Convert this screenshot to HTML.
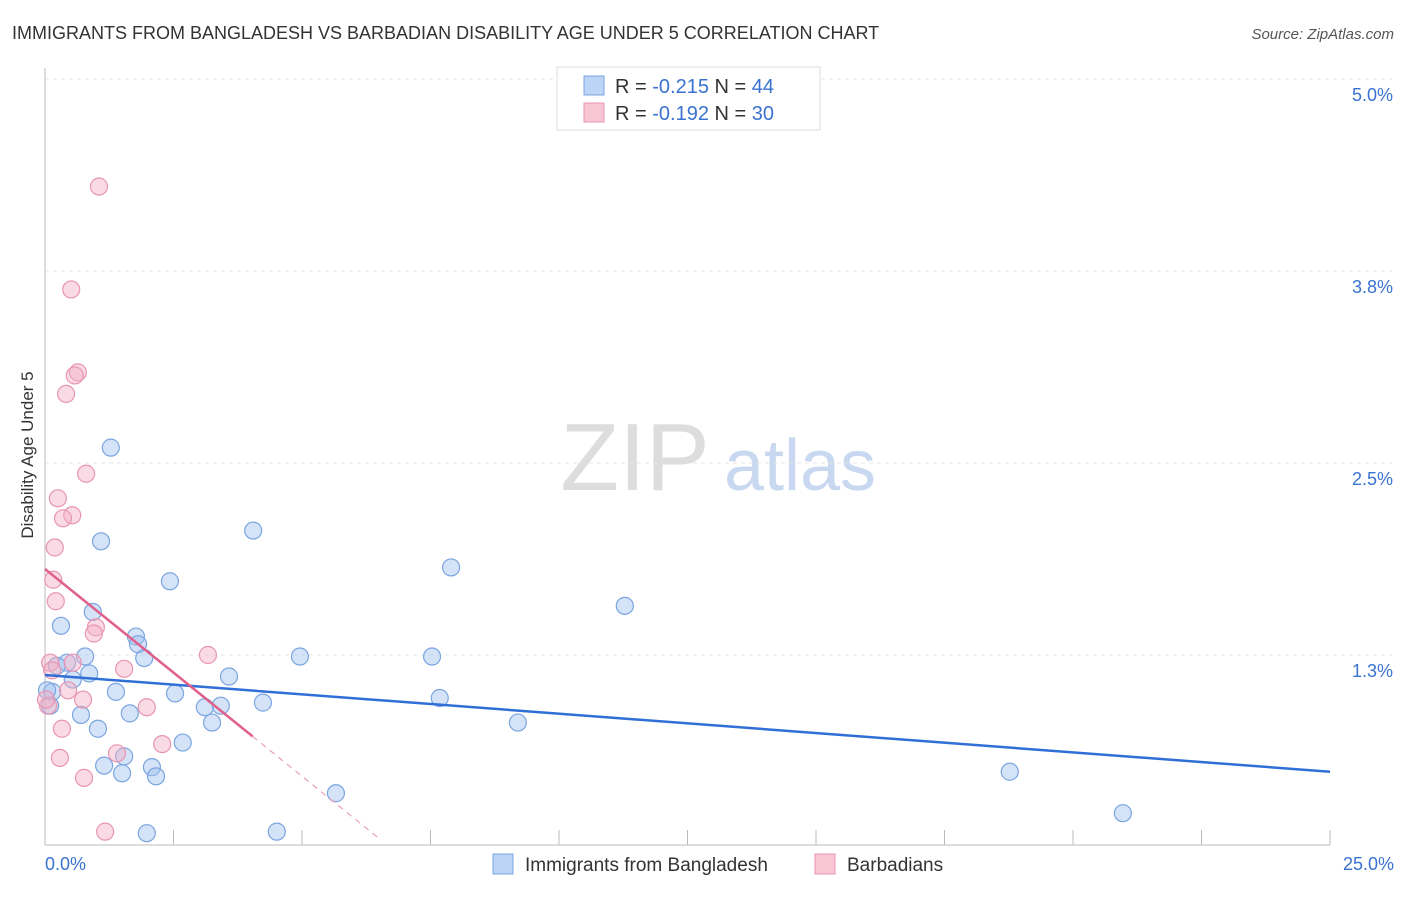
<!DOCTYPE html>
<html><head><meta charset="utf-8"><style>
body{margin:0;background:#fff;font-family:"Liberation Sans",sans-serif;}
svg text{font-family:"Liberation Sans",sans-serif;}
</style></head><body>
<svg id="c" width="1406" height="892" xmlns="http://www.w3.org/2000/svg">
<text x="12" y="39" font-size="18" fill="#333">IMMIGRANTS FROM BANGLADESH VS BARBADIAN DISABILITY AGE UNDER 5 CORRELATION CHART</text>
<text x="1394" y="39" font-size="15" fill="#555" text-anchor="end" font-style="italic">Source: ZipAtlas.com</text>
<text transform="translate(33,455) rotate(-90)" font-size="17" fill="#333" text-anchor="middle">Disability Age Under 5</text>
<g><text x="635" y="490" font-size="96" fill="#ddd" font-family="Liberation Serif" text-anchor="middle">ZIP</text><text x="800" y="490" font-size="72" fill="#c8d8f0" text-anchor="middle">atlas</text></g>
<g id="grid"></g><g id="pts"></g><g id="trend"></g>
<g>
<rect x="557" y="67" width="263" height="63" fill="#fff" stroke="#ddd"/>
<rect x="584" y="76" width="20" height="19" fill="#bcd4f5" stroke="#7aa5e0"/>
<rect x="584" y="103" width="20" height="19" fill="#f9c6d6" stroke="#e895b0"/>
<text x="615" y="93" font-size="20" fill="#333">R = <tspan fill="#3a72d0">-0.215</tspan>   N = <tspan fill="#3a72d0">44</tspan></text>
<text x="615" y="120" font-size="20" fill="#333">R = <tspan fill="#3a72d0">-0.192</tspan>   N = <tspan fill="#3a72d0">30</tspan></text>
</g>
<g>
<rect x="493" y="854" width="20" height="20" fill="#bcd4f5" stroke="#7aa5e0"/>
<text x="525" y="871" font-size="19" fill="#333">Immigrants from Bangladesh</text>
<rect x="815" y="854" width="20" height="20" fill="#f9c6d6" stroke="#e895b0"/>
<text x="847" y="871" font-size="19" fill="#333">Barbadians</text>
</g>
</svg>
<script>
const yTicks=[1.25,2.5,3.75,5.0];
const yTickLabels=["1.3%","2.5%","3.8%","5.0%"];
const xTickLabels=["0.0%","25.0%"];
const blueX=[1.28,1.09,4.05,2.43,7.90,11.28,0.93,0.31,1.77,1.81,1.93,0.78,0.43,0.23,4.96,7.53,0.86,0.54,0.14,1.38,3.58,2.53,7.68,4.24,3.11,3.42,0.70,1.65,3.25,9.20,1.03,2.68,1.54,1.15,2.08,1.50,2.16,5.66,18.77,20.97,1.98,4.51,0.10,0.04];
const blueY=[2.60,1.99,2.06,1.73,1.82,1.57,1.53,1.44,1.37,1.32,1.23,1.24,1.20,1.18,1.24,1.24,1.13,1.09,1.01,1.01,1.11,1.00,0.97,0.94,0.91,0.92,0.86,0.87,0.81,0.81,0.77,0.68,0.59,0.53,0.52,0.48,0.46,0.35,0.49,0.22,0.09,0.10,0.92,1.02];
const pinkX=[1.05,0.51,0.64,0.58,0.41,0.80,0.25,0.53,0.35,0.19,0.16,0.21,0.99,0.95,3.17,1.54,0.10,0.54,0.45,0.74,1.98,0.33,2.28,1.40,0.29,0.76,1.17,0.06,0.14,0.02];
const pinkY=[4.30,3.63,3.09,3.07,2.95,2.43,2.27,2.16,2.14,1.95,1.74,1.60,1.43,1.39,1.25,1.16,1.20,1.20,1.02,0.96,0.91,0.77,0.67,0.61,0.58,0.45,0.10,0.92,1.15,0.96];
const blueTrendX=[0,25], blueTrendY=[1.12,0.49];
const pinkTrendX=[0,4.04], pinkTrendY=[1.81,0.72];
const pinkDashX=[4.04,6.52], pinkDashY=[0.72,0.05];
const NS="http://www.w3.org/2000/svg";
const sx=v=>45+v/25*1285, sy=v=>847-v/1.25*192;
function mk(t,a,p){const e=document.createElementNS(NS,t);for(const k in a)e.setAttribute(k,a[k]);p.appendChild(e);return e;}
const g=document.getElementById('grid');
yTicks.forEach((t,i)=>{
 const l=mk('line',{x1:45,x2:1392,y1:sy(t),y2:sy(t),stroke:'#e4e4e4','stroke-dasharray':'4,4'},g);
 
 
 const tx=mk('text',{x:1393,y:sy(t)+22,'font-size':18,fill:'#3a72d0','text-anchor':'end'},g);tx.textContent=yTickLabels[i];
 
 
});
const ax=mk('line',{x1:45,x2:1330,y1:845,y2:845,stroke:'#bbb'},g);


const ay=mk('line',{x1:45,x2:45,y1:68,y2:845,stroke:'#bbb'},g);


for(let i=0;i<=10;i++){const t=mk('line',{x1:sx(i*2.5),x2:sx(i*2.5),y1:830,y2:845,stroke:'#bbb'},g);
 
 }
[[0,'start',45],[1,'end',1394]].forEach(([i,a,x])=>{const t=mk('text',{x:x,y:870,'font-size':18,fill:'#3a72d0','text-anchor':a},g);t.textContent=xTickLabels[i];
 
 });
const p=document.getElementById('pts');
blueX.forEach((x,i)=>{const c=mk('circle',{cx:sx(x),cy:sy(blueY[i]),r:8.5,fill:'rgba(160,192,240,0.45)',stroke:'#7aa5e0','stroke-width':1.2},p);
 
 });
pinkX.forEach((x,i)=>{const c=mk('circle',{cx:sx(x),cy:sy(pinkY[i]),r:8.5,fill:'rgba(245,175,198,0.45)',stroke:'#e895b0','stroke-width':1.2},p);
 
 });
const tr=document.getElementById('trend');
const b=mk('line',{x1:sx(blueTrendX[0]),y1:sy(blueTrendY[0]),x2:sx(blueTrendX[1]),y2:sy(blueTrendY[1]),stroke:'#2f6fd6','stroke-width':2.5},tr);


const pk=mk('line',{x1:sx(pinkTrendX[0]),y1:sy(pinkTrendY[0]),x2:sx(pinkTrendX[1]),y2:sy(pinkTrendY[1]),stroke:'#e0608c','stroke-width':2.5},tr);


const pd=mk('line',{x1:sx(pinkDashX[0]),y1:sy(pinkDashY[0]),x2:sx(pinkDashX[1]),y2:sy(pinkDashY[1]),stroke:'#e8a0b8','stroke-width':1.2,'stroke-dasharray':'6,5'},tr);


</script>
</body></html>
